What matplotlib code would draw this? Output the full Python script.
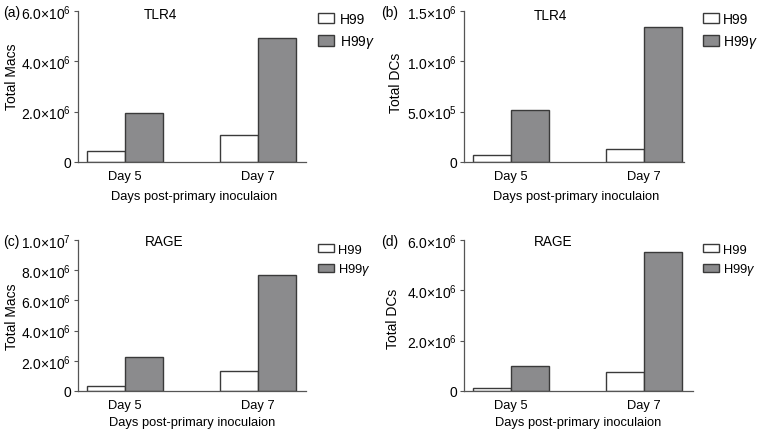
import matplotlib
matplotlib.use("Agg")
import matplotlib.pyplot as plt
import numpy as np

plt.rcParams['font.family'] = ['Liberation Sans', 'DejaVu Sans']
plt.rcParams['mathtext.fontset'] = 'custom'
plt.rcParams['mathtext.rm'] = 'Liberation Sans'
plt.rcParams['mathtext.it'] = 'Liberation Sans:italic'
plt.rcParams['mathtext.default'] = 'regular'

categories = ["Day 5", "Day 7"]
series_names = ["H99", r"H99$\mathit{\gamma}$"]

a_h99 = [0.45e6, 1.06e6]
a_h99g = [1.93e6, 4.91e6]
b_h99 = [0.066e6, 0.126e6]
b_h99g = [0.52e6, 1.345e6]
c_h99 = [0.30e6, 1.32e6]
c_h99g = [2.25e6, 7.68e6]
d_h99 = [0.12e6, 0.75e6]
d_h99g = [1.00e6, 5.51e6]

a_ticks = [0, 2e6, 4e6, 6e6]
a_ticklabels = ["0", r"$2.0{\times}10^{6}$", r"$4.0{\times}10^{6}$", r"$6.0{\times}10^{6}$"]
b_ticks = [0, 5e5, 1e6, 1.5e6]
b_ticklabels = ["0", r"$5.0{\times}10^{5}$", r"$1.0{\times}10^{6}$", r"$1.5{\times}10^{6}$"]
c_ticks = [0, 2e6, 4e6, 6e6, 8e6, 1e7]
c_ticklabels = ["0", r"$2.0{\times}10^{6}$", r"$4.0{\times}10^{6}$", r"$6.0{\times}10^{6}$",
                r"$8.0{\times}10^{6}$", r"$1.0{\times}10^{7}$"]
d_ticks = [0, 2e6, 4e6, 6e6]
d_ticklabels = ["0", r"$2.0{\times}10^{6}$", r"$4.0{\times}10^{6}$", r"$6.0{\times}10^{6}$"]

W, H = 757, 431
fig = plt.figure(figsize=(W / 100, H / 100), dpi=100)

FS_TICKY = 10
FS_TICKX = 9.3
FS_XLAB = 9.3
FS_YLAB = 10
FS_TITLE = 9.8
FS_TAG = 10
EDGE = '#3a3a3a'
GRAY = '#8b8b8d'
SPINE = '#555555'

panels = [
    dict(rect=(78, 12, 306, 163), h99=a_h99, h99g=a_h99g, ticks=a_ticks, tl=a_ticklabels,
         ylab="Total Macs", title="TLR4", tpos=(0.36, 0.977), ylc=(-0.29, 0.57),
         xlc=(0.51, -0.225), tag="(a)", tagpos=(3, 13), xright=1.36,
         leg=dict(fs=10, hl=1.15, hh=0.8, ls=0.55, tp=0.42, anchor=(1.053, 0.995))),
    dict(rect=(464, 12, 684, 163), h99=b_h99, h99g=b_h99g, ticks=b_ticks, tl=b_ticklabels,
         ylab="Total DCs", title="TLR4", tpos=(0.395, 0.975), ylc=(-0.31, 0.53),
         xlc=(0.51, -0.225), tag="(b)", tagpos=(381, 13), xright=1.30,
         leg=dict(fs=10, hl=1.15, hh=0.8, ls=0.55, tp=0.3, anchor=(1.086, 0.995))),
    dict(rect=(78, 241, 306, 392), h99=c_h99, h99g=c_h99g, ticks=c_ticks, tl=c_ticklabels,
         ylab="Total Macs", title="RAGE", tpos=(0.377, 0.993), ylc=(-0.29, 0.50),
         xlc=(0.50, -0.205), tag="(c)", tagpos=(3, 242), xright=1.36,
         leg=dict(fs=9.3, hl=1.24, hh=0.62, ls=0.44, tp=0.3, anchor=(1.053, 0.975))),
    dict(rect=(464, 241, 693, 392), h99=d_h99, h99g=d_h99g, ticks=d_ticks, tl=d_ticklabels,
         ylab="Total DCs", title="RAGE", tpos=(0.39, 0.993), ylc=(-0.31, 0.485),
         xlc=(0.50, -0.205), tag="(d)", tagpos=(381, 242), xright=1.37,
         leg=dict(fs=9.3, hl=1.24, hh=0.6, ls=0.44, tp=0.3, anchor=(1.042, 0.975))),
]

x = np.arange(len(categories))
bw = 0.286

for p in panels:
    l, t, r, b = p['rect']
    ax = fig.add_axes([l / W, 1 - b / H, (r - l) / W, (b - t) / H])
    ax.bar(x - bw / 2, p['h99'], bw, color='white', edgecolor=EDGE, linewidth=1.0,
           label=series_names[0])
    ax.bar(x + bw / 2, p['h99g'], bw, color=GRAY, edgecolor=EDGE, linewidth=1.0,
           label=series_names[1])
    ax.set_xlim(-0.353, p['xright'])
    ax.set_ylim(0, p['ticks'][-1])
    ax.set_yticks(p['ticks'])
    ax.set_yticklabels(p['tl'], fontsize=FS_TICKY)
    ax.set_xticks(x)
    ax.set_xticklabels(categories, fontsize=FS_TICKX)
    ax.tick_params(axis='x', length=0, pad=6)
    ax.tick_params(axis='y', length=3, width=0.8, color=SPINE, pad=2)
    for s in ['top', 'right']:
        ax.spines[s].set_visible(False)
    for s in ['left', 'bottom']:
        ax.spines[s].set_color(SPINE)
        ax.spines[s].set_linewidth(0.9)
    ax.set_ylabel(p['ylab'], fontsize=FS_YLAB)
    ax.yaxis.set_label_coords(*p['ylc'])
    ax.yaxis.label.set_verticalalignment('center')
    ax.set_xlabel("Days post-primary inoculaion", fontsize=FS_XLAB)
    ax.xaxis.set_label_coords(*p['xlc'])
    ax.xaxis.label.set_verticalalignment('center')
    ax.text(p['tpos'][0], p['tpos'][1], p['title'], transform=ax.transAxes,
            ha='center', va='center', fontsize=FS_TITLE)
    fig.text(p['tagpos'][0] / W, 1 - p['tagpos'][1] / H, p['tag'], ha='left', va='center',
             fontsize=FS_TAG)
    lg = p['leg']
    ax.legend(loc='upper left', bbox_to_anchor=lg['anchor'], frameon=False, fontsize=lg['fs'],
              handlelength=lg['hl'], handleheight=lg['hh'], handletextpad=lg['tp'],
              labelspacing=lg['ls'], borderaxespad=0, borderpad=0)

fig.savefig("out.png", dpi=100)
